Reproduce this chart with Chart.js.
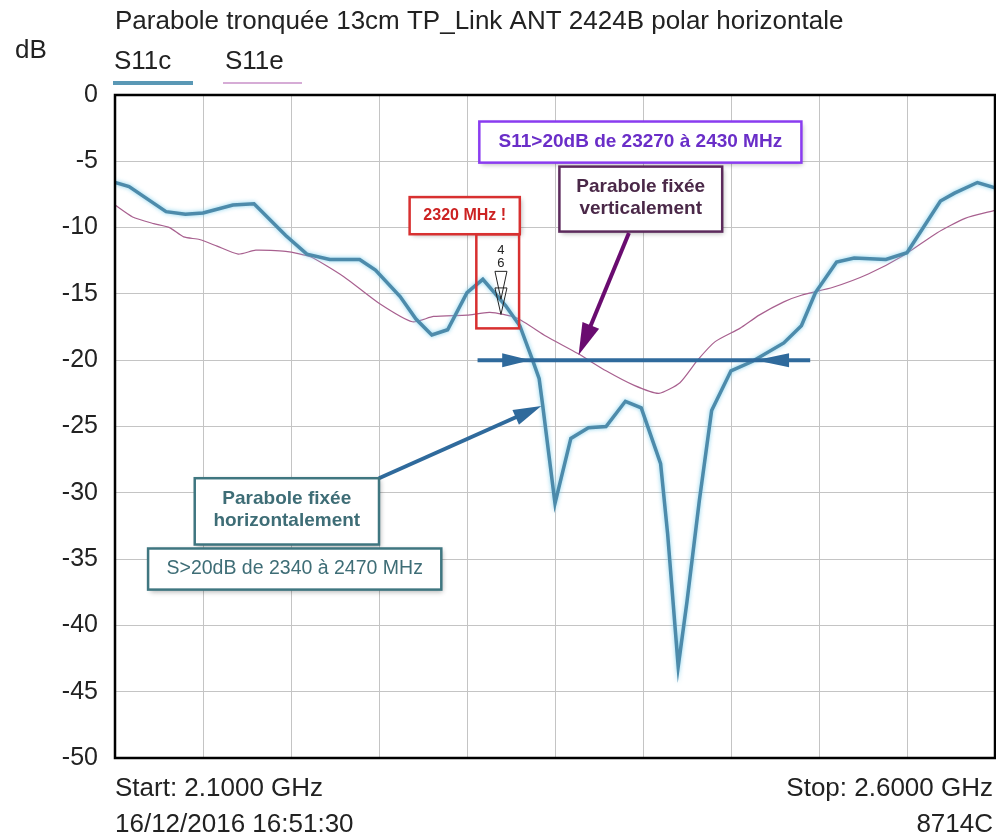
<!doctype html>
<html lang="fr">
<head>
<meta charset="utf-8">
<title>Parabole tronquée 13cm TP_Link ANT 2424B polar horizontale</title>
<script src="https://cdn.jsdelivr.net/npm/chart.js"></script>
<style>
  body { margin: 0; background: #fff; }
  #wrap { width: 996px; height: 840px; }
</style>
</head>
<body>
<div id="wrap"><canvas id="s11" width="996" height="840"></canvas></div>
<script>
// frequencies in MHz, return loss in dB
const freqC = [2100, 2108, 2129, 2140, 2150, 2167, 2179, 2197, 2209, 2222, 2239, 2248, 2262, 2271,
  2280, 2289, 2300, 2309, 2322, 2330, 2337, 2341, 2343, 2350, 2359, 2369, 2379, 2390, 2399, 2410,
  2414, 2420, 2425, 2432, 2439, 2450, 2462, 2480, 2490, 2498, 2510, 2520, 2538, 2550, 2569, 2577,
  2590, 2600];
const s11c = [-6.6, -6.9, -8.8, -9.0, -8.9, -8.3, -8.2, -10.6, -12.0, -12.4, -12.4, -13.2, -15.2, -16.9,
  -18.1, -17.7, -14.9, -13.9, -15.9, -17.4, -19.9, -21.4, -23.4, -30.8, -25.9, -25.1, -25.0, -23.1, -23.6, -27.8,
  -33.1, -43.1, -38.2, -30.6, -23.8, -20.8, -20.1, -18.7, -17.4, -14.9, -12.6, -12.3, -12.4, -11.9, -8.0, -7.4,
  -6.6, -7.0];

const freqE = [2100, 2110, 2122, 2131, 2139, 2148, 2158, 2170, 2180, 2197, 2211, 2230, 2250, 2269,
  2281, 2300, 2313, 2328, 2345, 2363, 2379, 2395, 2409, 2421, 2431, 2441, 2455, 2466, 2480, 2490,
  2508, 2528, 2548, 2567, 2583, 2600];
const s11e = [-8.3, -9.2, -9.7, -10.0, -10.7, -10.9, -11.4, -12.0, -11.7, -11.8, -12.2, -13.7, -15.7, -17.1,
  -16.7, -16.6, -16.4, -16.8, -18.2, -19.5, -20.8, -21.9, -22.5, -21.7, -20.0, -18.6, -17.6, -16.6, -15.6, -15.1,
  -14.5, -13.5, -12.1, -10.4, -9.3, -8.7];

const xTicks = [2100, 2150, 2200, 2250, 2300, 2350, 2400, 2450, 2500, 2550, 2600];
const yTicks = [0, -5, -10, -15, -20, -25, -30, -35, -40, -45, -50];

const FONT = "'Liberation Sans', Arial, sans-serif";

function pts(xs, ys) {
  return xs.map((x, i) => ({ x: x, y: ys[i] }));
}

function head(ctx, tx, ty, bx, by, half) {
  const a = Math.atan2(ty - by, tx - bx);
  ctx.beginPath();
  ctx.moveTo(tx, ty);
  ctx.lineTo(bx + Math.sin(a) * half, by - Math.cos(a) * half);
  ctx.lineTo(bx - Math.sin(a) * half, by + Math.cos(a) * half);
  ctx.closePath();
  ctx.fill();
}

function arrow(ctx, x1, y1, x2, y2, color, w, len, half) {
  const a = Math.atan2(y2 - y1, x2 - x1);
  ctx.strokeStyle = color;
  ctx.fillStyle = color;
  ctx.lineWidth = w;
  ctx.beginPath();
  ctx.moveTo(x1, y1);
  ctx.lineTo(x2 - Math.cos(a) * len * 0.6, y2 - Math.sin(a) * len * 0.6);
  ctx.stroke();
  head(ctx, x2, y2, x2 - Math.cos(a) * len, y2 - Math.sin(a) * len, half);
}

function box(ctx, x1, y1, x2, y2, color, filled) {
  ctx.save();
  if (filled) {
    ctx.shadowColor = 'rgba(0,0,0,0.3)';
    ctx.shadowBlur = 5;
    ctx.shadowOffsetX = 2;
    ctx.shadowOffsetY = 2;
    ctx.fillStyle = '#fff';
    ctx.fillRect(x1, y1, x2 - x1, y2 - y1);
  }
  ctx.restore();
  ctx.strokeStyle = color;
  ctx.lineWidth = 2.5;
  ctx.strokeRect(x1, y1, x2 - x1, y2 - y1);
}

function txt(ctx, s, x, y, font, color, align) {
  ctx.font = font;
  ctx.fillStyle = color;
  ctx.textAlign = align || 'left';
  ctx.fillText(s, x, y);
}

const halo = {
  id: 'halo',
  beforeDatasetDraw(chart, args) {
    if (args.index !== 0) return;
    chart.ctx.save();
    chart.ctx.shadowColor = 'rgba(120,205,235,0.9)';
    chart.ctx.shadowBlur = 4;
  },
  afterDatasetDraw(chart, args) {
    if (args.index === 0) chart.ctx.restore();
  }
};

const decor = {
  id: 'decor',
  afterDatasetsDraw(chart) {
    const ctx = chart.ctx;
    const X = v => chart.scales.x.getPixelForValue(v);
    const Y = v => chart.scales.y.getPixelForValue(v);
    const a = chart.chartArea;
    ctx.save();

    // frame
    ctx.strokeStyle = '#000';
    ctx.lineWidth = 2.5;
    ctx.strokeRect(a.left, a.top, a.right - a.left, a.bottom - a.top);

    // headings, legend, footer
    ctx.textBaseline = 'alphabetic';
    txt(ctx, 'Parabole tronquée 13cm TP_Link ANT 2424B polar horizontale', 115, 29, '26px ' + FONT, '#222');
    txt(ctx, 'dB', 15, 58, '26px ' + FONT, '#222');
    txt(ctx, 'S11c', 114, 69, '26px ' + FONT, '#222');
    txt(ctx, 'S11e', 225, 69, '26px ' + FONT, '#222');
    ctx.lineWidth = 4;
    ctx.strokeStyle = '#5a98b5';
    ctx.beginPath(); ctx.moveTo(113, 83); ctx.lineTo(193, 83); ctx.stroke();
    ctx.lineWidth = 1.5;
    ctx.strokeStyle = '#c890c8';
    ctx.beginPath(); ctx.moveTo(223, 83); ctx.lineTo(302, 83); ctx.stroke();
    txt(ctx, 'Start: 2.1000 GHz', 115, 796, '26px ' + FONT, '#222');
    txt(ctx, 'Stop: 2.6000 GHz', 993, 796, '26px ' + FONT, '#222', 'right');
    txt(ctx, '16/12/2016 16:51:30', 115, 832, '26px ' + FONT, '#222');
    txt(ctx, '8714C', 993, 832, '26px ' + FONT, '#222', 'right');

    ctx.textBaseline = 'middle';

    // -20 dB band arrow
    const blue = '#2f6a9c';
    ctx.strokeStyle = blue;
    ctx.fillStyle = blue;
    ctx.lineWidth = 4;
    ctx.beginPath(); ctx.moveTo(X(2306), Y(-20)); ctx.lineTo(X(2495), Y(-20)); ctx.stroke();
    head(ctx, X(2336), Y(-20), X(2320), Y(-20), 7);
    head(ctx, X(2464), Y(-20), X(2483), Y(-20), 7);

    // vertical mount notes
    box(ctx, X(2307), Y(-2.0), X(2490), Y(-5.1), '#8a3cf0', true);
    txt(ctx, 'S11>20dB de 23270 à 2430 MHz', X(2398.5), Y(-3.55), 'bold 19px ' + FONT, '#6a2ec8', 'center');
    box(ctx, X(2352.5), Y(-5.4), X(2445), Y(-10.3), '#5c2a5c', true);
    txt(ctx, 'Parabole fixée', X(2398.7), Y(-6.9), 'bold 19px ' + FONT, '#4a2848', 'center');
    txt(ctx, 'verticalement', X(2398.7), Y(-8.6), 'bold 19px ' + FONT, '#4a2848', 'center');
    arrow(ctx, X(2392), Y(-10.4), X(2363.4), Y(-19.6), '#6a0c70', 4, 32, 9);

    // marker 4 / 6 at 2320 MHz
    box(ctx, X(2267.4), Y(-7.7), X(2330), Y(-10.5), '#d83030', true);
    txt(ctx, '2320 MHz !', X(2298.7), Y(-9.1), 'bold 16px ' + FONT, '#cc2222', 'center');
    box(ctx, X(2305.3), Y(-10.5), X(2329.6), Y(-17.6), '#d83030', false);
    txt(ctx, '4', X(2319.3), Y(-11.7), '13px ' + FONT, '#222', 'center');
    txt(ctx, '6', X(2319.3), Y(-12.7), '13px ' + FONT, '#222', 'center');
    ctx.strokeStyle = '#222';
    ctx.lineWidth = 1;
    [[-13.3, -15.4], [-14.55, -16.55]].forEach(t => {
      const cx = X(2319.3);
      ctx.beginPath();
      ctx.moveTo(cx - 6, Y(t[0]));
      ctx.lineTo(cx + 6, Y(t[0]));
      ctx.lineTo(cx, Y(t[1]));
      ctx.closePath();
      ctx.stroke();
    });

    // horizontal mount notes
    arrow(ctx, X(2250), Y(-28.9), X(2342.2), Y(-23.45), blue, 4, 28, 8);
    box(ctx, X(2145.3), Y(-28.9), X(2250), Y(-33.9), '#3f7680', true);
    txt(ctx, 'Parabole fixée', X(2197.6), Y(-30.45), 'bold 19px ' + FONT, '#3e6d76', 'center');
    txt(ctx, 'horizontalement', X(2197.6), Y(-32.1), 'bold 19px ' + FONT, '#3e6d76', 'center');
    box(ctx, X(2118.8), Y(-34.2), X(2285.4), Y(-37.3), '#3f7680', true);
    txt(ctx, 'S>20dB de 2340 à 2470 MHz', X(2202.1), Y(-35.75), '19.5px ' + FONT, '#3e6d76', 'center');

    ctx.restore();
  }
};

new Chart(document.getElementById('s11'), {
  type: 'line',
  data: {
    datasets: [
      {
        label: 'S11c',
        data: pts(freqC, s11c),
        borderColor: '#4d8bab',
        borderWidth: 3.5,
        pointRadius: 0,
        tension: 0
      },
      {
        label: 'S11e',
        data: pts(freqE, s11e),
        borderColor: '#a8608f',
        borderWidth: 1.2,
        pointRadius: 0,
        tension: 0.2
      }
    ]
  },
  options: {
    responsive: false,
    animation: false,
    layout: { padding: { top: 95, right: 1, bottom: 82, left: 0 } },
    plugins: {
      legend: { display: false },
      title: { display: false },
      tooltip: { enabled: false }
    },
    scales: {
      x: {
        type: 'linear',
        min: 2100,
        max: 2600,
        afterBuildTicks: s => { s.ticks = xTicks.map(v => ({ value: v })); },
        afterFit: s => { s.height = 0; },
        ticks: { display: false },
        grid: { color: '#c4c4c4', lineWidth: 1, drawTicks: false },
        border: { display: false }
      },
      y: {
        min: -50,
        max: 0,
        afterBuildTicks: s => { s.ticks = yTicks.map(v => ({ value: v })); },
        afterFit: s => { s.width = 115; },
        ticks: {
          padding: 17,
          color: '#222',
          font: { family: FONT, size: 25 }
        },
        grid: { color: '#c4c4c4', lineWidth: 1, drawTicks: false },
        border: { display: false }
      }
    }
  },
  plugins: [halo, decor]
});
</script>
</body>
</html>
